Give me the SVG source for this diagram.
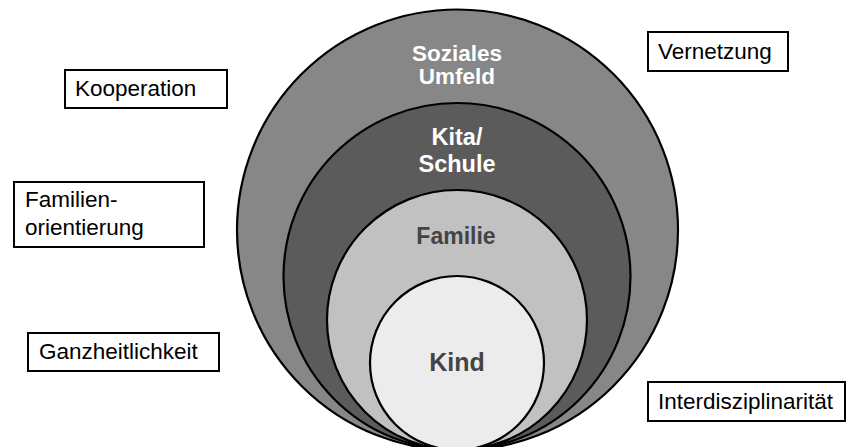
<svg xmlns="http://www.w3.org/2000/svg" width="847" height="447" viewBox="0 0 847 447">
<style>
.ring{stroke:#000;stroke-width:2.2}
.lbl{font-family:"Liberation Sans",Arial,sans-serif;font-weight:bold;text-anchor:middle}
.box{fill:#fff;stroke:#000;stroke-width:2}
.bt{font-family:"Liberation Sans",Arial,sans-serif;font-size:22.5px;fill:#000}
</style>
<rect width="847" height="447" fill="#fff"/>
<g id="soziales-umfeld">
<circle class="ring" cx="457.5" cy="230" r="220.5" fill="#878787"/>
<text class="lbl" x="457" y="61" font-size="22.5" fill="#fff">Soziales</text>
<text class="lbl" x="457" y="84" font-size="22.5" fill="#fff">Umfeld</text>
</g>
<g id="kita-schule">
<circle class="ring" cx="457" cy="276.5" r="173.5" fill="#5b5b5b"/>
<text class="lbl" x="457" y="145" font-size="23.5" fill="#fff">Kita/</text>
<text class="lbl" x="457" y="172" font-size="23.5" fill="#fff">Schule</text>
</g>
<g id="familie">
<circle class="ring" cx="457" cy="320" r="130" fill="#c1c1c1"/>
<text class="lbl" x="456" y="244" font-size="23" fill="#444">Familie</text>
</g>
<g id="kind">
<circle class="ring" cx="457" cy="363" r="87" fill="#ececec"/>
<text class="lbl" x="457" y="371" font-size="25" fill="#444">Kind</text>
</g>
<g id="kooperation">
<rect class="box" x="65" y="70" width="162" height="38"/>
<text class="bt" x="75" y="96">Kooperation</text>
</g>
<g id="familienorientierung">
<rect class="box" x="14" y="182" width="190" height="65"/>
<text class="bt" x="25" y="207">Familien-</text>
<text class="bt" x="25" y="235">orientierung</text>
</g>
<g id="ganzheitlichkeit">
<rect class="box" x="28" y="333" width="191" height="38"/>
<text class="bt" x="39" y="359">Ganzheitlichkeit</text>
</g>
<g id="vernetzung">
<rect class="box" x="648" y="32" width="140" height="39"/>
<text class="bt" x="658" y="59">Vernetzung</text>
</g>
<g id="interdisziplinaritaet">
<rect class="box" x="648" y="382" width="197" height="39"/>
<text class="bt" x="658" y="409">Interdisziplinarität</text>
</g>
<g id="connectors"></g>
</svg>
